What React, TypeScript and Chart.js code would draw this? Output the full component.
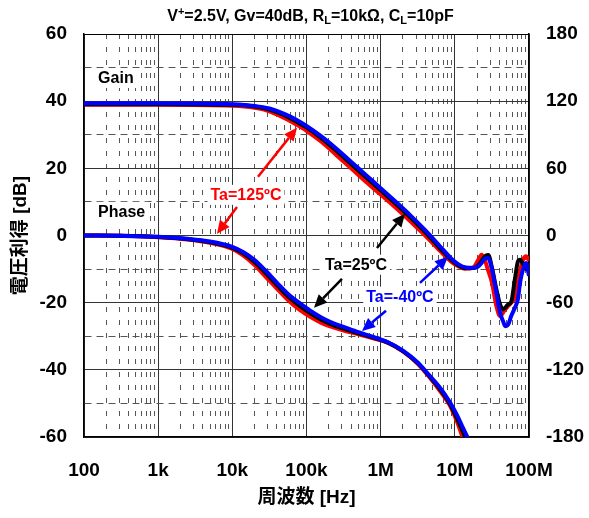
import React, { useEffect, useRef } from 'react';
import { Chart, registerables } from 'chart.js';

Chart.register(...registerables);

const FONT = "'Liberation Sans', Arial, 'Noto Sans CJK JP', sans-serif";

// ---- Gain data (log10 of frequency in Hz, gain in dB) ----
const GAIN_LOG_F = [2, 3, 4, 4.3, 4.5, 4.7, 4.85, 5.0, 5.2, 5.4, 5.6, 5.8, 6.0, 6.2, 6.4, 6.6, 6.8, 6.95, 7.05, 7.15, 7.25, 7.31, 7.36, 7.40, 7.45, 7.50, 7.56, 7.61, 7.65, 7.68, 7.72, 7.76, 7.81, 7.85, 7.88, 7.92, 7.96, 8.0];
const GAIN_M40 = [39.4, 39.4, 39.1, 38.6, 37.8, 36.2, 34.6, 32.6, 29.5, 25.9, 22.0, 18.0, 14.1, 10.1, 6.0, 1.6, -3.2, -6.8, -8.6, -9.5, -9.6, -9.3, -8.2, -7.0, -6.7, -10, -17, -23, -25.5, -27, -26.5, -24, -21.5, -19, -14, -10, -8.2, -12];
const GAIN_25 = [39.1, 39.1, 38.9, 38.4, 37.5, 35.8, 34.1, 32.2, 29.0, 25.3, 21.3, 17.4, 13.5, 9.5, 5.4, 1.0, -3.8, -7.2, -8.9, -9.7, -9.7, -9.0, -7.6, -6.3, -5.8, -9.5, -16, -20.5, -22, -21.5, -20.5, -19.8, -13, -7.8, -7.2, -8.5, -10.0, -9.5];
const GAIN_125 = [38.9, 38.9, 38.6, 38.0, 37.0, 35.0, 33.2, 31.2, 27.9, 24.0, 20.0, 16.0, 12.2, 8.3, 4.2, 0, -4.6, -7.8, -9.2, -9.9, -9.5, -7.5, -5.7, -7.0, -10.5, -14, -21, -24, -23, -22, -21, -20, -18.5, -14, -10.5, -7.2, -6.2, -7.5];

// ---- Phase data (log10 of frequency in Hz, phase in degrees) ----
const PHASE_LOG_F = [2, 2.5, 3, 3.4, 3.7, 4.0, 4.15, 4.3, 4.45, 4.6, 4.75, 4.9, 5.05, 5.2, 5.35, 5.5, 5.7, 5.9, 6.1, 6.3, 6.5, 6.65, 6.8, 6.93, 7.03, 7.11, 7.18];
const PHASE_M40 = [0, -0.3, -1.2, -3, -5.4, -10.2, -15, -21.9, -31.5, -42, -52.2, -60, -67.2, -73.2, -78, -81.6, -86.4, -90.6, -95.4, -102.9, -113.4, -124.5, -135.9, -148.5, -160.5, -171.9, -181.5];
const PHASE_25 = [0, -0.3, -1.4, -3.3, -6, -11.1, -16.2, -23.7, -33.6, -44.1, -54.3, -62.4, -69.3, -75.3, -79.8, -83.1, -87.3, -91.2, -95.7, -103.2, -114, -125.1, -137.4, -150, -163.5, -175.5, -187.5];
const PHASE_125 = [0, -0.3, -1.5, -3.6, -6.6, -12, -18, -26.4, -36.9, -47.4, -57.6, -66, -72.6, -78, -81.9, -84.9, -88.2, -91.8, -96, -103.5, -114.6, -126, -138.9, -151.5, -166.5, -181.5, -195];

// ---- Axes ----
const X_DECADES = [2, 3, 4, 5, 6, 7, 8];
const X_TICK_LABELS = ['100', '1k', '10k', '100k', '1M', '10M', '100M'];
const Y_LEFT_RANGE = [-60, 60];
const Y_RIGHT_RANGE = [-180, 180];

const TITLE_PARTS: { t: string; k: 'n' | 'sup' | 'sub' }[] = [
  { t: 'V', k: 'n' }, { t: '+', k: 'sup' }, { t: '=2.5V, Gv=40dB, R', k: 'n' }, { t: 'L', k: 'sub' },
  { t: '=10kΩ, C', k: 'n' }, { t: 'L', k: 'sub' }, { t: '=10pF', k: 'n' },
];

// annotations in data space: [log10 f, dB]
const TEXT_LABELS = [
  { text: 'Gain', at: [2.19, 46.9], color: '#000000', align: 'left' },
  { text: 'Phase', at: [2.19, 7.05], color: '#000000', align: 'left' },
  { text: 'Ta=125ºC', at: [4.184, 12.1], color: '#FF0000', align: 'center' },
  { text: 'Ta=25ºC', at: [5.667, -8.7], color: '#000000', align: 'center' },
  { text: 'Ta=-40ºC', at: [6.26, -18.2], color: '#0000FF', align: 'center' },
];
const ARROWS = [
  { from: [4.346, 17.5], to: [4.872, 32.1], color: '#FF0000' },
  { from: [4.063, 8.5], to: [3.793, 0.5], color: '#FF0000' },
  { from: [5.95, -3.7], to: [6.328, 6.5], color: '#000000' },
  { from: [5.478, -12.9], to: [5.101, -21.5], color: '#000000' },
  { from: [6.53, -14.1], to: [6.908, -6.3], color: '#0000FF' },
  { from: [6.072, -22.4], to: [5.748, -28.4], color: '#0000FF' },
];

const toPoints = (logf: number[], vals: number[]) => logf.map((e, i) => ({ x: Math.pow(10, e), y: vals[i] }));

const X_TICKS: number[] = [];
X_DECADES.forEach((d, i) => {
  if (i === X_DECADES.length - 1) { X_TICKS.push(Math.pow(10, d)); return; }
  for (let m = 1; m <= 9; m++) X_TICKS.push(m * Math.pow(10, d));
});
const isDecade = (v: number | undefined) => v !== undefined && Math.abs(Math.log10(v) - Math.round(Math.log10(v))) < 1e-9;

const annotPlugin = {
  id: 'annot',
  afterDatasetsDraw(chart: any) {
    const { ctx } = chart;
    const xs = chart.scales.x;
    const ys = chart.scales.y;
    const px = (lf: number) => xs.getPixelForValue(Math.pow(10, lf));
    const py = (v: number) => ys.getPixelForValue(v);
    ctx.save();
    ctx.font = `bold 16px ${FONT}`;
    ctx.textBaseline = 'middle';
    TEXT_LABELS.forEach((l) => {
      const w = ctx.measureText(l.text).width;
      const x = px(l.at[0]);
      const y = py(l.at[1]);
      const left = l.align === 'left' ? x : x - w / 2;
      ctx.fillStyle = '#ffffff';
      ctx.fillRect(left - 3, y - 10, w + 6, 20);
      ctx.fillStyle = l.color;
      ctx.textAlign = 'left';
      ctx.fillText(l.text, left, y + 1);
    });
    ARROWS.forEach((a) => {
      const x1 = px(a.from[0]), y1 = py(a.from[1]);
      const x2 = px(a.to[0]), y2 = py(a.to[1]);
      const ang = Math.atan2(y2 - y1, x2 - x1);
      const hl = 13, hw = 6;
      const bx = x2 - hl * Math.cos(ang), by = y2 - hl * Math.sin(ang);
      ctx.strokeStyle = a.color;
      ctx.fillStyle = a.color;
      ctx.lineWidth = 2.5;
      ctx.beginPath();
      ctx.moveTo(x1, y1);
      ctx.lineTo(bx, by);
      ctx.stroke();
      ctx.beginPath();
      ctx.moveTo(x2, y2);
      ctx.lineTo(bx + hw * Math.sin(ang), by - hw * Math.cos(ang));
      ctx.lineTo(bx - hw * Math.sin(ang), by + hw * Math.cos(ang));
      ctx.closePath();
      ctx.fill();
    });
    ctx.restore();
  },
  afterDraw(chart: any) {
    const { ctx, chartArea } = chart;
    ctx.save();
    ctx.fillStyle = '#000';
    ctx.textBaseline = 'alphabetic';
    ctx.textAlign = 'left';
    const fontFor = (k: string) => (k === 'n' ? `bold 16px ${FONT}` : `bold 11px ${FONT}`);
    let total = 0;
    TITLE_PARTS.forEach((p) => { ctx.font = fontFor(p.k); total += ctx.measureText(p.t).width; });
    let x = (chartArea.left + chartArea.right) / 2 + 4 - total / 2;
    const base = 21;
    TITLE_PARTS.forEach((p) => {
      ctx.font = fontFor(p.k);
      const dy = p.k === 'sup' ? -6 : p.k === 'sub' ? 3 : 0;
      ctx.fillText(p.t, x, base + dy);
      x += ctx.measureText(p.t).width;
    });
    ctx.restore();
  },
};

const tickFont = { family: FONT, size: 19, weight: 'bold' as const };

export default function App() {
  const ref = useRef<HTMLCanvasElement | null>(null);
  useEffect(() => {
    if (!ref.current) return;
    Chart.defaults.font.family = FONT;
    const line = (label: string, data: any, axis: string, color: string) => ({
      label, data, yAxisID: axis, borderColor: color, backgroundColor: color, borderWidth: 4,
      pointRadius: 0, fill: false, cubicInterpolationMode: 'monotone' as const,
    });
    const chart = new Chart(ref.current, {
      type: 'line',
      data: {
        datasets: [
          line('Gain Ta=-40', toPoints(GAIN_LOG_F, GAIN_M40), 'y', '#0000FF'),
          line('Phase Ta=-40', toPoints(PHASE_LOG_F, PHASE_M40), 'y2', '#0000FF'),
          line('Gain Ta=25', toPoints(GAIN_LOG_F, GAIN_25), 'y', '#000000'),
          line('Phase Ta=25', toPoints(PHASE_LOG_F, PHASE_25), 'y2', '#000000'),
          line('Gain Ta=125', toPoints(GAIN_LOG_F, GAIN_125), 'y', '#FF0000'),
          line('Phase Ta=125', toPoints(PHASE_LOG_F, PHASE_125), 'y2', '#FF0000'),
        ],
      },
      options: {
        responsive: false,
        animation: false,
        layout: { padding: { top: 34, left: 0, right: 0, bottom: 0 } },
        plugins: { legend: { display: false }, tooltip: { enabled: false }, title: { display: false } },
        scales: {
          x: {
            type: 'logarithmic',
            min: Math.pow(10, X_DECADES[0]),
            max: Math.pow(10, X_DECADES[X_DECADES.length - 1]),
            afterBuildTicks: (axis: any) => { axis.ticks = X_TICKS.map((v) => ({ value: v })); },
            afterFit: (axis: any) => { axis.height = 81; },
            ticks: {
              autoSkip: false, maxRotation: 0, minRotation: 0, padding: 22, color: '#000', font: tickFont,
              callback: (v: any) => {
                const i = X_DECADES.findIndex((d) => Math.abs(Math.log10(Number(v)) - d) < 1e-9);
                return i >= 0 ? X_TICK_LABELS[i] : '';
              },
            },
            grid: {
              drawTicks: false, lineWidth: 1,
              color: (c: any) => (isDecade(c.tick?.value) ? '#333333' : '#555555'),
            },
            border: {
              color: '#000', width: 1.5,
              dash: (c: any) => (c.tick && !isDecade(c.tick.value) ? [5, 8] : []),
            },
            title: { display: true, text: '周波数 [Hz]', color: '#000', font: tickFont, padding: { top: 0, bottom: 9 } },
          },
          y: {
            position: 'left', min: Y_LEFT_RANGE[0], max: Y_LEFT_RANGE[1],
            afterFit: (axis: any) => { axis.width = 84; },
            ticks: {
              stepSize: 10, padding: 17, color: '#000', font: tickFont,
              callback: (v: any) => (Number(v) % 20 === 0 ? String(v) : ''),
            },
            grid: {
              drawTicks: false, lineWidth: 1,
              color: (c: any) => (c.tick?.value === Y_LEFT_RANGE[1] ? '#000000' : Number(c.tick?.value) % 20 === 0 ? '#333333' : '#555555'),
            },
            border: {
              color: '#000', width: 1.5,
              dash: (c: any) => (c.tick && Number(c.tick.value) % 20 !== 0 ? [7, 5] : []),
            },
            title: { display: true, text: '電圧利得 [dB]', color: '#000', font: tickFont, padding: { top: 9, bottom: 0 } },
          },
          y2: {
            position: 'right', min: Y_RIGHT_RANGE[0], max: Y_RIGHT_RANGE[1],
            afterFit: (axis: any) => { axis.width = 60; },
            ticks: { stepSize: 60, padding: 17, color: '#000', font: tickFont },
            grid: { display: false, drawTicks: false },
            border: { color: '#000', width: 1.5 },
          },
        },
      } as any,
      plugins: [annotPlugin],
    });
    return () => chart.destroy();
  }, []);
  return (
    <div style={{ position: 'fixed', left: 0, top: 0, width: 589, height: 518, background: '#fff' }}>
      <canvas ref={ref} width={589} height={518} />
    </div>
  );
}
